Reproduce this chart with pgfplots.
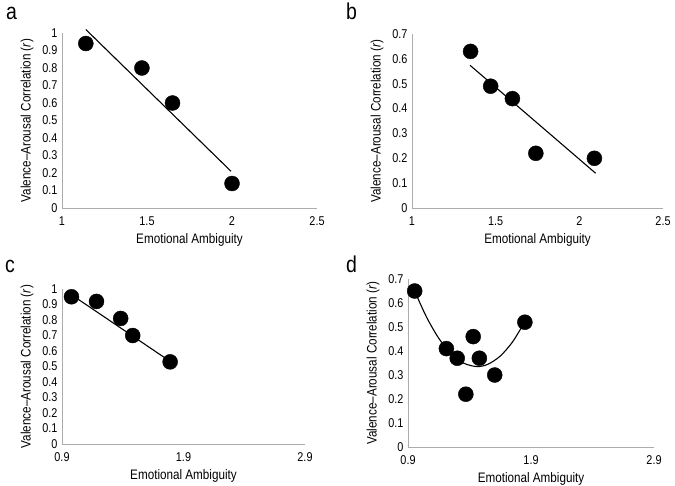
\documentclass[border=0pt]{standalone}
\usepackage{fontspec}
\setmainfont[FakeStretch=0.85]{Liberation Sans}
\usepackage{pgfplots}
\pgfplotsset{compat=1.18}
\pgfplotsset{
  myaxis/.style={
    scale only axis,
    anchor=south west,
    axis x line*=bottom,
    axis y line*=left,
    axis line style={gray!65, line width=0.9bp},
    major tick length=0pt,
    tick label style={font=\fontsize{12.8}{14}\selectfont},
    label style={font=\fontsize{13.8}{15}\selectfont},
    /pgf/number format/assume math mode=true,
    xlabel={Emotional Ambiguity},
    ylabel={Valence--Arousal Correlation (\textit{r})},
    xticklabel style={yshift=-5bp},
    yticklabel style={xshift=-1bp},
    xlabel style={yshift=-1bp},
    ylabel style={yshift=2bp},
    clip=false,
  },
  dots/.style={only marks, mark=*, mark size=7.5bp, black},
  fit/.style={black, line width=1.1bp, no marks},
}
\begin{document}
\begin{tikzpicture}[x=1bp,y=1bp]
\useasboundingbox (0,0) rectangle (675,-486);
% panel labels
\node[anchor=base west, inner sep=0pt, font=\fontsize{23}{25}\selectfont] at (6,-20) {a};
\node[anchor=base west, inner sep=0pt, font=\fontsize{23}{25}\selectfont] at (346,-20) {b};
\node[anchor=base west, inner sep=0pt, font=\fontsize{23}{25}\selectfont] at (5,-272) {c};
\node[anchor=base west, inner sep=0pt, font=\fontsize{23}{25}\selectfont] at (346,-272) {d};

% (a)
\begin{axis}[myaxis, at={(62bp,-208bp)}, width=255bp, height=175bp,
  xmin=1, xmax=2.5, ymin=0, ymax=1,
  xtick={1,1.5,2,2.5},
  ytick={0,0.1,0.2,0.3,0.4,0.5,0.6,0.7,0.8,0.9,1},
  yticklabels={0,0.1,0.2,0.3,0.4,0.5,0.6,0.7,0.8,0.9,1}]
\addplot[fit] coordinates {(1.14,1.02) (1.994,0.21)};
\addplot[dots] coordinates {(1.14,0.94) (1.47,0.80) (1.65,0.60) (2.0,0.14)};
\end{axis}

% (b)
\begin{axis}[myaxis, at={(412bp,-208bp)}, width=251bp, height=174bp,
  xmin=1, xmax=2.5, ymin=0, ymax=0.7,
  xtick={1,1.5,2,2.5},
  ytick={0,0.1,0.2,0.3,0.4,0.5,0.6,0.7},
  yticklabels={0,0.1,0.2,0.3,0.4,0.5,0.6,0.7}]
\addplot[fit] coordinates {(1.347,0.574) (2.097,0.14)};
\addplot[dots] coordinates {(1.35,0.63) (1.47,0.49) (1.60,0.44) (1.74,0.22) (2.09,0.20)};
\end{axis}

% (c)
\begin{axis}[myaxis, at={(62bp,-444bp)}, width=243bp, height=155bp,
  xmin=0.9, xmax=2.9, ymin=0, ymax=1,
  xtick={0.9,1.9,2.9},
  xticklabels={0.9,1.9,2.9},
  ytick={0,0.1,0.2,0.3,0.4,0.5,0.6,0.7,0.8,0.9,1},
  yticklabels={0,0.1,0.2,0.3,0.4,0.5,0.6,0.7,0.8,0.9,1}]
\addplot[fit] coordinates {(0.978,0.963) (1.79,0.533)};
\addplot[dots] coordinates {(0.978,0.95) (1.184,0.92) (1.383,0.81) (1.482,0.70) (1.79,0.53)};
\end{axis}

% (d)
\begin{axis}[myaxis, at={(408bp,-447bp)}, width=246bp, height=168bp,
  xmin=0.9, xmax=2.9, ymin=0, ymax=0.7,
  xtick={0.9,1.9,2.9},
  xticklabels={0.9,1.9,2.9},
  ytick={0,0.1,0.2,0.3,0.4,0.5,0.6,0.7},
  yticklabels={0,0.1,0.2,0.3,0.4,0.5,0.6,0.7}]
\addplot[fit, smooth] coordinates {(0.954,0.650) (1.05,0.542) (1.15,0.453) (1.25,0.389) (1.35,0.350) (1.46,0.335) (1.55,0.345) (1.65,0.379) (1.75,0.438) (1.85,0.522)};
\addplot[dots] coordinates {(0.954,0.65) (1.212,0.41) (1.30,0.37) (1.37,0.22) (1.43,0.46) (1.48,0.37) (1.605,0.30) (1.85,0.52)};
\end{axis}
\end{tikzpicture}
\end{document}
